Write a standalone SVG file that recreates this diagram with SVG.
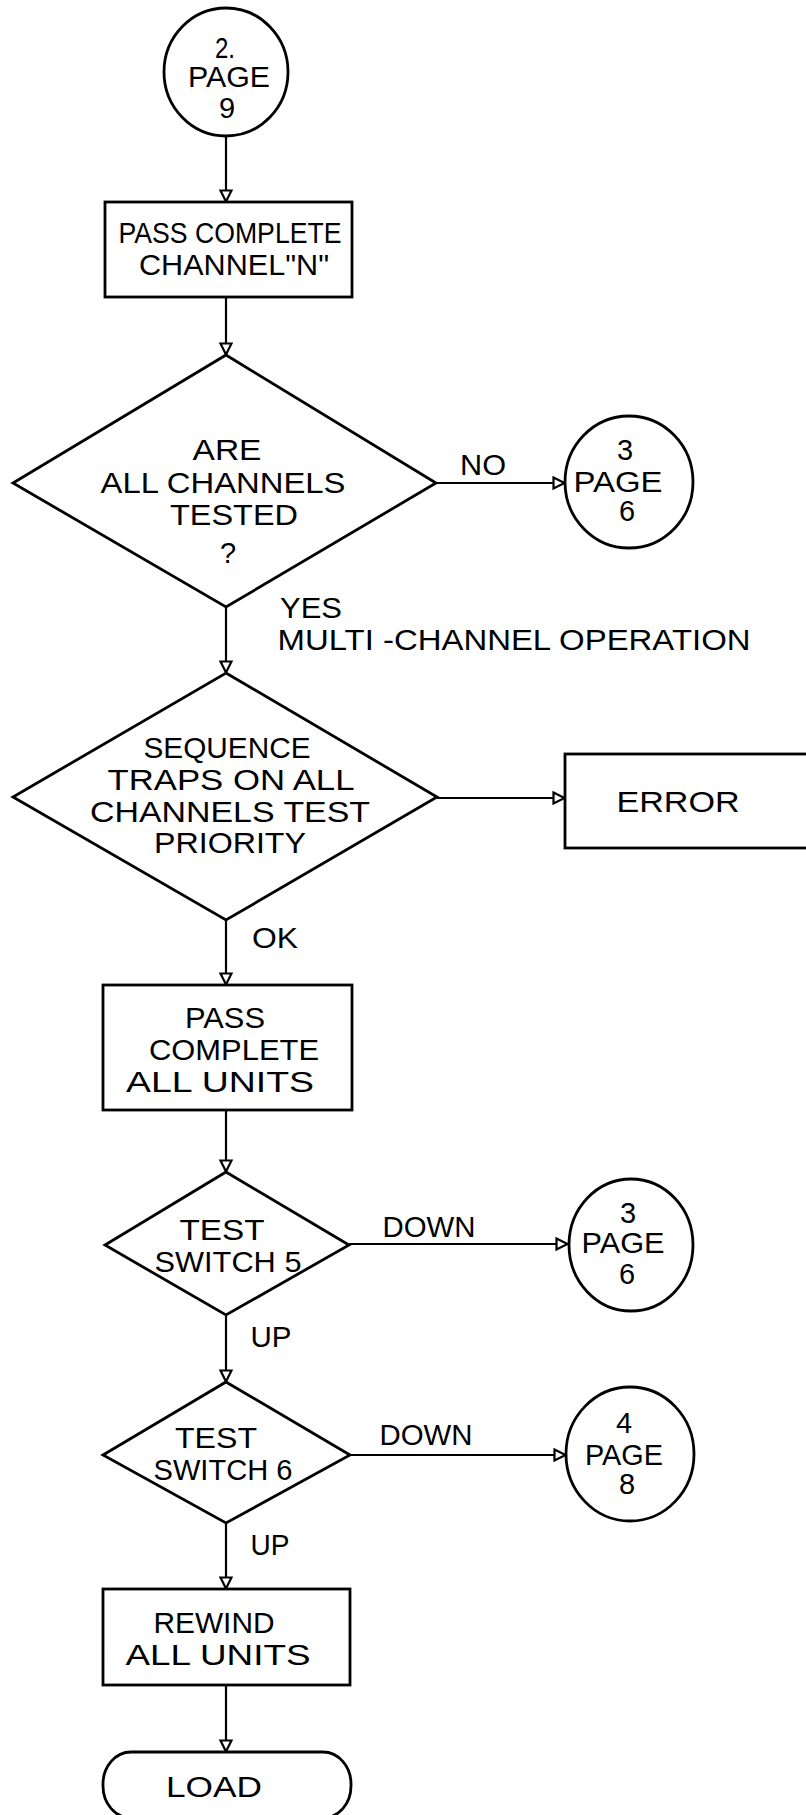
<svg xmlns="http://www.w3.org/2000/svg" width="806" height="1815" viewBox="0 0 806 1815">
<defs>
<marker id="arr" markerUnits="userSpaceOnUse" markerWidth="16" markerHeight="16" refX="13" refY="7" orient="auto">
<path d="M1.5,1.5 L12.5,7 L1.5,12.5 Z" fill="#fff" stroke="#000" stroke-width="2.2"/>
</marker>
</defs>
<style>
.s{fill:#fff;stroke:#000;stroke-width:2.8}
.c{fill:none;stroke:#000;stroke-width:2.2}
text{font-family:"Liberation Sans",Arial,sans-serif;font-size:29px;fill:#000;text-anchor:middle}
</style>
<rect width="806" height="1815" fill="#fff"/>
<g id="connectors">
<path class="c" d="M226,137 V202" marker-end="url(#arr)"/>
<path class="c" d="M226,297 V355" marker-end="url(#arr)"/>
<path class="c" d="M436,483 H565" marker-end="url(#arr)"/>
<path class="c" d="M226,607 V673" marker-end="url(#arr)"/>
<path class="c" d="M437,798 H565" marker-end="url(#arr)"/>
<path class="c" d="M226,920 V985" marker-end="url(#arr)"/>
<path class="c" d="M226,1110 V1172" marker-end="url(#arr)"/>
<path class="c" d="M349,1244 H568" marker-end="url(#arr)"/>
<path class="c" d="M226,1315 V1382" marker-end="url(#arr)"/>
<path class="c" d="M350,1455 H566" marker-end="url(#arr)"/>
<path class="c" d="M226,1523 V1589" marker-end="url(#arr)"/>
<path class="c" d="M226,1685 V1752" marker-end="url(#arr)"/>
<text x="483" y="475" textLength="46" lengthAdjust="spacingAndGlyphs">NO</text>
<text x="311" y="618" textLength="62" lengthAdjust="spacingAndGlyphs">YES</text>
<text x="514" y="650" textLength="473" lengthAdjust="spacingAndGlyphs">MULTI -CHANNEL OPERATION</text>
<text x="275" y="948" textLength="46" lengthAdjust="spacingAndGlyphs">OK</text>
<text x="429" y="1237" textLength="93" lengthAdjust="spacingAndGlyphs">DOWN</text>
<text x="271" y="1347" textLength="41" lengthAdjust="spacingAndGlyphs">UP</text>
<text x="426" y="1445" textLength="93" lengthAdjust="spacingAndGlyphs">DOWN</text>
<text x="270" y="1555" textLength="39" lengthAdjust="spacingAndGlyphs">UP</text>
</g>
<g id="n_start">
<ellipse class="s" cx="226" cy="72" rx="62" ry="64"/>
<text x="225" y="58" font-size="25" textLength="20" lengthAdjust="spacingAndGlyphs">2.</text>
<text x="229" y="87" textLength="82" lengthAdjust="spacingAndGlyphs">PAGE</text>
<text x="227" y="118">9</text>
</g>
<g id="n_pass_channel">
<rect class="s" x="105" y="202" width="247" height="95"/>
<text x="230" y="243" textLength="223" lengthAdjust="spacingAndGlyphs">PASS COMPLETE</text>
<text x="234" y="275" textLength="190" lengthAdjust="spacingAndGlyphs">CHANNEL"N"</text>
</g>
<g id="n_all_tested">
<polygon class="s" points="226,355 436,483 226,607 13,483"/>
<text x="227" y="460" textLength="69" lengthAdjust="spacingAndGlyphs">ARE</text>
<text x="223" y="493" textLength="245" lengthAdjust="spacingAndGlyphs">ALL CHANNELS</text>
<text x="234" y="525" textLength="128" lengthAdjust="spacingAndGlyphs">TESTED</text>
<text x="228" y="563" font-size="32">?</text>
</g>
<g id="n_page6a">
<ellipse class="s" cx="629" cy="482" rx="64" ry="66"/>
<text x="625" y="460">3</text>
<text x="618" y="492" textLength="89" lengthAdjust="spacingAndGlyphs">PAGE</text>
<text x="627" y="521">6</text>
</g>
<g id="n_sequence">
<polygon class="s" points="226,673 437,797 226,920 13,797"/>
<text x="227" y="758" textLength="167" lengthAdjust="spacingAndGlyphs">SEQUENCE</text>
<text x="231" y="790" textLength="247" lengthAdjust="spacingAndGlyphs">TRAPS ON ALL</text>
<text x="230" y="822" textLength="280" lengthAdjust="spacingAndGlyphs">CHANNELS TEST</text>
<text x="230" y="853" textLength="152" lengthAdjust="spacingAndGlyphs">PRIORITY</text>
</g>
<g id="n_error">
<rect class="s" x="565" y="754" width="270" height="94"/>
<text x="678" y="812" textLength="123" lengthAdjust="spacingAndGlyphs">ERROR</text>
</g>
<g id="n_pass_all">
<rect class="s" x="103" y="985" width="249" height="125"/>
<text x="225" y="1028" textLength="80" lengthAdjust="spacingAndGlyphs">PASS</text>
<text x="234" y="1060" textLength="170" lengthAdjust="spacingAndGlyphs">COMPLETE</text>
<text x="220" y="1092" textLength="188" lengthAdjust="spacingAndGlyphs">ALL UNITS</text>
</g>
<g id="n_switch5">
<polygon class="s" points="226,1172 349,1245 226,1315 105,1245"/>
<text x="222" y="1240" textLength="85" lengthAdjust="spacingAndGlyphs">TEST</text>
<text x="228" y="1272" textLength="147" lengthAdjust="spacingAndGlyphs">SWITCH 5</text>
</g>
<g id="n_page6b">
<ellipse class="s" cx="631" cy="1245" rx="62" ry="66"/>
<text x="628" y="1223">3</text>
<text x="623" y="1253" textLength="83" lengthAdjust="spacingAndGlyphs">PAGE</text>
<text x="627" y="1284">6</text>
</g>
<g id="n_switch6">
<polygon class="s" points="226,1382 350,1455 226,1523 103,1455"/>
<text x="216" y="1448" textLength="82" lengthAdjust="spacingAndGlyphs">TEST</text>
<text x="223" y="1480" textLength="139" lengthAdjust="spacingAndGlyphs">SWITCH 6</text>
</g>
<g id="n_page8">
<ellipse class="s" cx="630" cy="1454" rx="64" ry="67"/>
<text x="624" y="1433">4</text>
<text x="624" y="1465" textLength="78" lengthAdjust="spacingAndGlyphs">PAGE</text>
<text x="627" y="1494">8</text>
</g>
<g id="n_rewind">
<rect class="s" x="103" y="1589" width="247" height="96"/>
<text x="214" y="1633" textLength="121" lengthAdjust="spacingAndGlyphs">REWIND</text>
<text x="218" y="1665" textLength="185" lengthAdjust="spacingAndGlyphs">ALL UNITS</text>
</g>
<g id="n_load">
<rect class="s" x="103" y="1752" width="248" height="66" rx="28" ry="32"/>
<text x="214" y="1797" textLength="96" lengthAdjust="spacingAndGlyphs">LOAD</text>
</g>
</svg>
